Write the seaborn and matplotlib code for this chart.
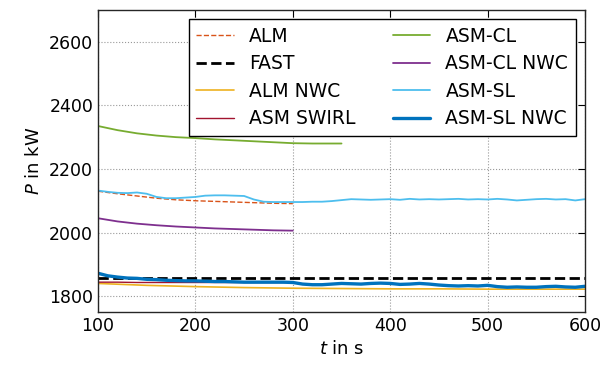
import numpy as np
import pandas as pd
import matplotlib
matplotlib.use("Agg")
import matplotlib.pyplot as plt
import seaborn as sns

sns.set_style("white")
plt.rcParams['font.family'] = ['DejaVu Sans']
plt.rcParams['text.color'] = 'black'
plt.rcParams['axes.labelcolor'] = 'black'
plt.rcParams['xtick.color'] = 'black'
plt.rcParams['ytick.color'] = 'black'

# time grids
t_short = [100, 120, 140, 160, 180, 200, 220, 240, 260, 280, 300]
t_cl = [100, 120, 140, 160, 180, 200, 220, 240, 260, 280, 300, 320, 340, 350]
t_long = list(range(100, 601, 10))

alm = [2130, 2122, 2115, 2108, 2103, 2100, 2098, 2096, 2094, 2092, 2091]
fast = [1857] * len(t_long)
alm_nwc_t = [100, 150, 200, 250, 300, 350, 400, 450, 500, 550, 600]
alm_nwc = [1840, 1834, 1830, 1827, 1825, 1824, 1823, 1823, 1822, 1822, 1822]
asm_swirl = [1844, 1844, 1843, 1843, 1843, 1843, 1843, 1843, 1843, 1843, 1843]
asm_cl = [2335, 2322, 2312, 2305, 2300, 2297, 2293, 2290, 2287, 2284, 2281, 2280, 2280, 2280]
asm_cl_nwc = [2045, 2035, 2028, 2023, 2019, 2016, 2013, 2011, 2009, 2007, 2006]
asm_sl = [2132, 2128, 2125, 2124, 2126, 2122, 2112, 2108, 2108, 2110, 2112, 2116, 2117, 2117,
          2116, 2115, 2104, 2097, 2096, 2096, 2096, 2096, 2097, 2097, 2099, 2102, 2105, 2104,
          2103, 2104, 2105, 2103, 2106, 2104, 2105, 2104, 2105, 2106, 2104, 2105, 2104, 2106,
          2104, 2101, 2103, 2105, 2106, 2104, 2105, 2101, 2105]
asm_sl_nwc = [1872, 1864, 1860, 1857, 1856, 1853, 1852, 1850, 1849, 1848, 1848, 1847, 1846,
              1846, 1845, 1844, 1844, 1844, 1844, 1844, 1843, 1838, 1836, 1836, 1838, 1840,
              1839, 1838, 1840, 1841, 1840, 1837, 1838, 1840, 1838, 1835, 1833, 1832, 1833,
              1832, 1834, 1830, 1828, 1829, 1828, 1828, 1830, 1831, 1829, 1828, 1831]

fig, ax = plt.subplots(figsize=(6.05, 3.68), dpi=100)
fig.subplots_adjust(left=0.162, right=0.967, top=0.973, bottom=0.152)

series = [
    ("ALM", t_short, alm, "#D95319", "--", 1.0),
    ("FAST", t_long, fast, "black", "--", 2.0),
    ("ALM NWC", alm_nwc_t, alm_nwc, "#EDB120", "-", 1.2),
    ("ASM SWIRL", t_short, asm_swirl, "#A2142F", "-", 1.0),
    ("ASM-CL", t_cl, asm_cl, "#77AC30", "-", 1.3),
    ("ASM-CL NWC", t_short, asm_cl_nwc, "#7E2F8E", "-", 1.3),
    ("ASM-SL", t_long, asm_sl, "#4DBEEE", "-", 1.3),
    ("ASM-SL NWC", t_long, asm_sl_nwc, "#0072BD", "-", 2.4),
]
for name, t, v, c, ls, lw in series:
    sns.lineplot(x=t, y=v, ax=ax, color=c, linestyle=ls, linewidth=lw, label=name)

ax.set_xlim(100, 600)
ax.set_ylim(1750, 2700)
ax.set_xticks([100, 200, 300, 400, 500, 600])
ax.set_yticks([1800, 2000, 2200, 2400, 2600])
ax.grid(True, color="#999999", linestyle=":", linewidth=0.8)
ax.tick_params(direction="in", length=5, labelsize=12.5, top=True, right=True)
for s in ax.spines.values():
    s.set_color("#262626")
    s.set_linewidth(1.0)
ax.set_xlabel(r"$t$ in s", fontsize=13)
ax.set_ylabel(r"$P$ in kW", fontsize=13)
leg = ax.legend(ncol=2, loc="upper right", fontsize=13.5, frameon=True, fancybox=False,
                edgecolor="black", framealpha=1, borderaxespad=0.5, handlelength=2.0,
                columnspacing=2.0, labelspacing=0.45, borderpad=0.4)
leg.get_frame().set_linewidth(1.0)
fig.savefig("out.png", dpi=100)
